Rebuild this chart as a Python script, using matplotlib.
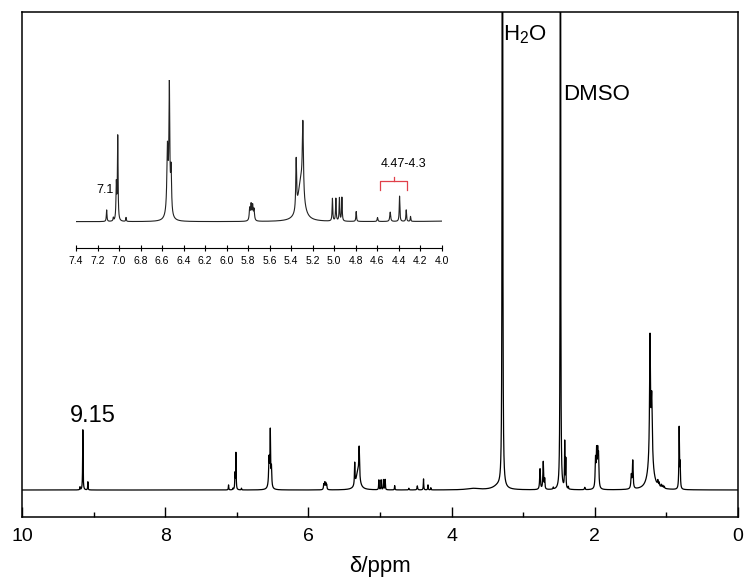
import numpy as np
from matplotlib import pyplot as plt

plt.rcParams['font.family'] = ['Liberation Sans', 'DejaVu Sans']
plt.rcParams['mathtext.default'] = 'regular'

# 峰表：化学位移 / 峰高 / 半高半宽 (ppm)
peak_ppm = [9.19, 9.15, 9.08,
            7.115, 7.053, 7.025, 7.012, 6.935,
            6.55, 6.532, 6.516, 6.54,
            5.785, 5.772, 5.758, 5.745,
            5.353, 5.291, 5.31,
            5.016, 4.984, 4.951, 4.928,
            4.795, 4.597, 4.479, 4.392, 4.330, 4.29,
            3.70, 3.35, 3.29,
            2.765, 2.72, 2.70, 2.58,
            2.48, 2.42, 2.405, 2.37, 2.14,
            1.99, 1.975, 1.96, 1.948,
            1.49, 1.47,
            1.229, 1.205, 1.22,
            1.12, 1.10, 1.07, 1.05, 1.03,
            0.822, 0.808]
peak_height = [0.6, 12.6, 1.7,
               1.05, 0.3, 3.3, 7.6, 0.36,
               5.2, 10.6, 3.8, 1.8,
               1.1, 1.4, 1.3, 1.0,
               4.6, 6.6, 3.6,
               2.05, 2.05, 2.1, 2.15,
               0.9, 0.36, 0.85, 2.3, 1.05, 0.45,
               0.3, 0.8, 400,
               4.3, 5.8, 2.0, 0.4,
               400, 9.6, 6, 0.5, 0.5,
               5.8, 7.2, 6.8, 6.3,
               2.8, 5.8,
               25, 13, 6.5,
               1.0, 0.8, 0.6, 0.5, 0.4,
               12.8, 5]
peak_width = [0.003, 0.0035, 0.003,
              0.0035, 0.003, 0.004, 0.0035, 0.003,
              0.006, 0.0045, 0.005, 0.018,
              0.005, 0.005, 0.005, 0.005,
              0.0045, 0.006, 0.03,
              0.0035, 0.0035, 0.0035, 0.0035,
              0.0035, 0.004, 0.005, 0.0035, 0.0035, 0.003,
              0.1, 0.08, 0.0028,
              0.006, 0.006, 0.004, 0.004,
              0.0022, 0.0035, 0.0035, 0.003, 0.005,
              0.006, 0.006, 0.006, 0.006,
              0.007, 0.006,
              0.007, 0.009, 0.04,
              0.005, 0.005, 0.005, 0.005, 0.005,
              0.0045, 0.0045]

x_ticks = [10, 8, 6, 4, 2, 0]
inset_ticks = [7.4, 7.2, 7.0, 6.8, 6.6, 6.4, 6.2, 6.0, 5.8, 5.6, 5.4,
               5.2, 5.0, 4.8, 4.6, 4.4, 4.2, 4.0]

# 洛伦兹线型叠加得到谱线
ppm = np.linspace(10.2, -0.2, 40000)
signal = np.zeros_like(ppm)
for p, h, w in zip(peak_ppm, peak_height, peak_width):
    signal += h * w ** 2 / ((ppm - p) ** 2 + w ** 2)

fig = plt.figure(figsize=(7.45, 5.78), dpi=100)
ax = fig.add_axes([0.0295, 0.1055, 0.9611, 0.8737])
ax.plot(ppm, signal, color='k', linewidth=0.9)
ax.set_xlim(10, 0)
ax.set_ylim(-5.65, 100)
ax.set_xticks(x_ticks)
ax.set_xticks([9, 7, 5, 3, 1], minor=True)
ax.set_yticks([])
ax.tick_params(axis='x', which='major', direction='in', length=7, width=1,
               labelsize=14, pad=8)
ax.tick_params(axis='x', which='minor', direction='in', length=3.5, width=1)
for s in ax.spines.values():
    s.set_linewidth(1.1)
ax.set_xlabel('δ/ppm', fontsize=16, labelpad=8)

ax.text(9.33, 14.2, '9.15', fontsize=17)
ax.text(3.28, 94.1, 'H$_2$O', fontsize=16)
ax.text(2.44, 81.6, 'DMSO', fontsize=16)

# 局部放大图 7.4-4.0 ppm
ins = fig.add_axes([0.1020, 0.5704, 0.4909, 0.2912])
ins.patch.set_alpha(0)
ins.plot(ppm, signal, color='#222222', linewidth=0.8)
ins.set_xlim(7.4, 4.0)
ins.set_ylim(-2.416, 12.87)
for side in ['top', 'left', 'right']:
    ins.spines[side].set_visible(False)
ins.spines['bottom'].set_linewidth(0.8)
ins.set_yticks([])
ins.set_xticks(inset_ticks)
ins.set_xticklabels(['{:.1f}'.format(t) for t in inset_ticks])
ins.tick_params(axis='x', direction='inout', length=5, width=0.8,
                labelsize=7.5, pad=3)

ins.text(7.214, 2.6, '7.1', fontsize=9)
ins.text(4.566, 4.97, '4.47-4.3', fontsize=9)
ins.plot([4.572, 4.572, 4.324, 4.324], [2.88, 3.70, 3.70, 2.88],
         color='#e0404a', linewidth=0.9)
ins.plot([4.448, 4.448], [3.70, 4.09], color='#e0404a', linewidth=0.9)

plt.savefig('out.png', dpi=100)
